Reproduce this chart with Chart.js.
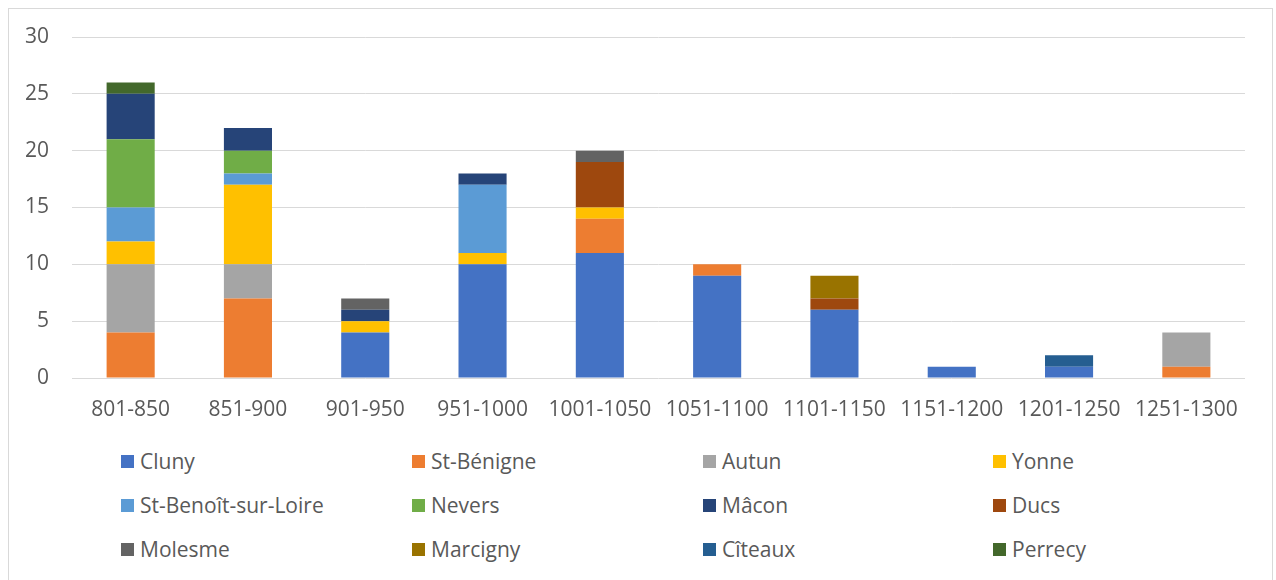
<!DOCTYPE html>
<html>
<head>
<meta charset="utf-8">
<script src="https://cdn.jsdelivr.net/npm/chart.js@4"></script>
<style>
  body { margin: 0; background: #fff; font-family: "Open Sans", sans-serif; }
  #frame { position: absolute; left: 8px; top: 8px; width: 1263px; height: 590px; border: 1px solid #d9d9d9; }
  #wrap { position: absolute; left: 0; top: 0; width: 1276px; height: 430px; }
  #legend { position: absolute; left: 0; top: 440px; width: 1276px; }
  .item { position: absolute; display: flex; align-items: center; font-size: 21px; color: #595959; height: 24px; }
  .sw { width: 13px; height: 13px; margin-right: 6px; }
</style>
</head>
<body>
<div id="frame"></div>
<div id="wrap"><canvas id="chart"></canvas></div>
<div id="legend"></div>
<script>
const periods = ["801-850", "851-900", "901-950", "951-1000", "1001-1050", "1051-1100", "1101-1150", "1151-1200", "1201-1250", "1251-1300"];

const cluny      = [0, 0, 4, 10, 11, 9, 6, 1, 1, 0];
const stBenigne  = [4, 7, 0, 0, 3, 1, 0, 0, 0, 1];
const autun      = [6, 3, 0, 0, 0, 0, 0, 0, 0, 3];
const yonne      = [2, 7, 1, 1, 1, 0, 0, 0, 0, 0];
const stBenoit   = [3, 1, 0, 6, 0, 0, 0, 0, 0, 0];
const nevers     = [6, 2, 0, 0, 0, 0, 0, 0, 0, 0];
const macon      = [4, 2, 1, 1, 0, 0, 0, 0, 0, 0];
const ducs       = [0, 0, 0, 0, 4, 0, 1, 0, 0, 0];
const molesme    = [0, 0, 1, 0, 1, 0, 0, 0, 0, 0];
const marcigny   = [0, 0, 0, 0, 0, 0, 2, 0, 0, 0];
const citeaux    = [0, 0, 0, 0, 0, 0, 0, 0, 1, 0];
const perrecy    = [1, 0, 0, 0, 0, 0, 0, 0, 0, 0];

const yTicks = [0, 5, 10, 15, 20, 25, 30];

const series = [
    ["Cluny", cluny, "#4472C4"],
    ["St-Bénigne", stBenigne, "#ED7D31"],
    ["Autun", autun, "#A5A5A5"],
    ["Yonne", yonne, "#FFC000"],
    ["St-Benoît-sur-Loire", stBenoit, "#5B9BD5"],
    ["Nevers", nevers, "#70AD47"],
    ["Mâcon", macon, "#264478"],
    ["Ducs", ducs, "#9E480E"],
    ["Molesme", molesme, "#636363"],
    ["Marcigny", marcigny, "#997300"],
    ["Cîteaux", citeaux, "#255E91"],
    ["Perrecy", perrecy, "#43682B"]
];

const font = { family: "'Open Sans', sans-serif", size: 21 };

new Chart(document.getElementById("chart"), {
    type: "bar",
    data: {
        labels: periods,
        datasets: series.map(s => ({
            label: s[0],
            data: s[1],
            backgroundColor: s[2],
            borderWidth: 0,
            barPercentage: 0.41,
            categoryPercentage: 1
        }))
    },
    options: {
        responsive: true,
        maintainAspectRatio: false,
        animation: false,
        layout: { padding: { left: 9, right: 31, top: 37, bottom: 0 } },
        scales: {
            x: {
                stacked: true,
                grid: { display: false, drawTicks: false },
                border: { display: false },
                ticks: { font: font, color: "#595959", padding: 19, maxRotation: 0, autoSkip: false },
                afterFit: s => { s.height = 52; }
            },
            y: {
                stacked: true,
                min: 0, max: 30,
                afterBuildTicks: s => { s.ticks = yTicks.map(v => ({ value: v })); },
                grid: { color: "#d9d9d9", lineWidth: 1, drawTicks: false },
                border: { display: false },
                ticks: { font: font, color: "#595959", padding: 23 },
                afterFit: s => { s.width = 63; }
            }
        },
        plugins: { legend: { display: false }, tooltip: { enabled: false } }
    }
});

const legend = document.getElementById("legend");
const colX = [121, 412, 703, 993];
const rowY = [9, 53, 97];
series.forEach((s, i) => {
    const el = document.createElement("div");
    el.className = "item";
    el.style.left = colX[i % 4] + "px";
    el.style.top = rowY[Math.floor(i / 4)] + "px";
    el.innerHTML = '<span class="sw" style="background:' + s[2] + '"></span><span>' + s[0] + '</span>';
    legend.appendChild(el);
});
</script>
</body>
</html>
